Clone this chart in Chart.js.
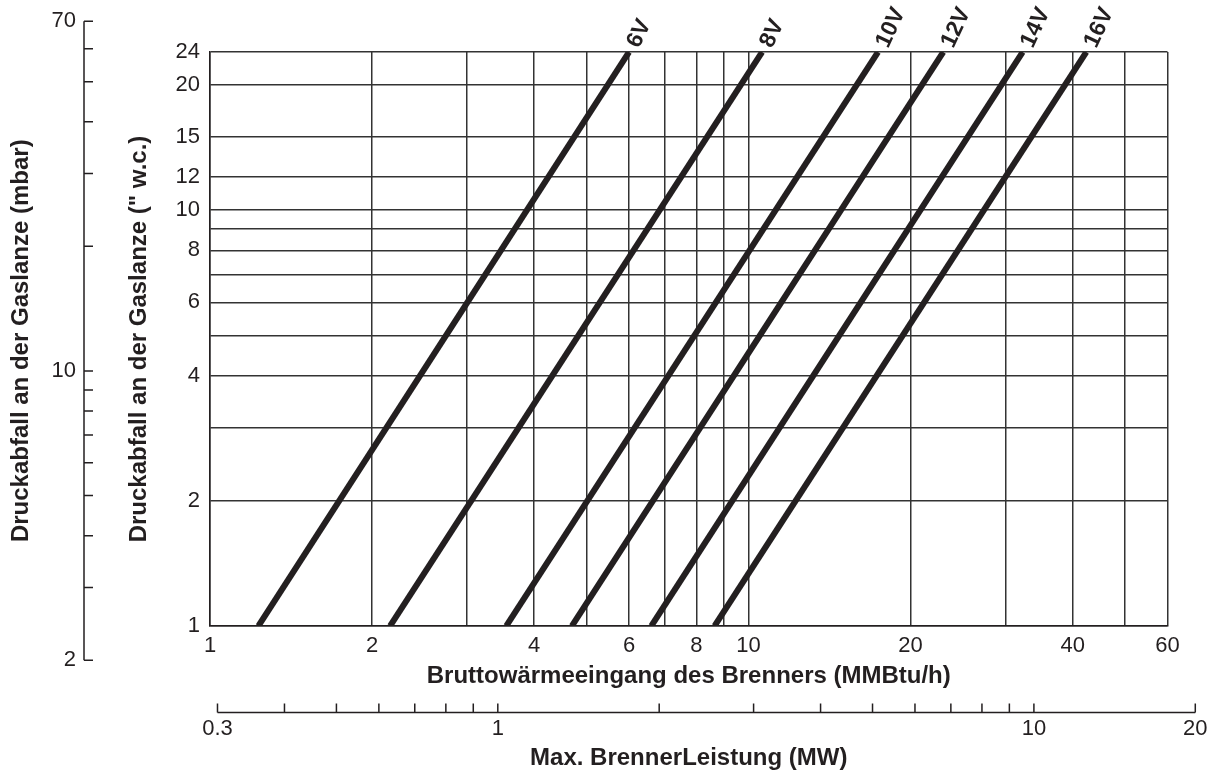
<!DOCTYPE html>
<html>
<head>
<meta charset="utf-8">
<script src="https://cdn.jsdelivr.net/npm/chart.js@4.4.1/dist/chart.umd.min.js"></script>
<style>
  html, body { margin: 0; padding: 0; background: #fff; }
  #wrap { width: 1215px; height: 774px; }
</style>
</head>
<body>
<div id="wrap"><canvas id="nozzleChart"></canvas></div>
<script>
// nozzle sizes and burner input (MMBtu/h) at 1" and 24" w.c.
const seriesNames = ['6V', '8V', '10V', '12V', '14V', '16V'];
const flowAtLow = [1.23, 2.16, 3.55, 4.7, 6.6, 8.65];
const flowAtHigh = [6.0, 10.6, 17.4, 23.0, 32.3, 42.4];
const pressureEnds = [1, 24];

const xTicks = [1, 2, 3, 4, 5, 6, 7, 8, 9, 10, 20, 30, 40, 50, 60];
const xLabels = [1, 2, 4, 6, 8, 10, 20, 40, 60];
const yTicks = [1, 2, 3, 4, 5, 6, 7, 8, 9, 10, 12, 15, 20, 24];
const yLabels = [1, 2, 4, 6, 8, 10, 12, 15, 20, 24];
const mbarTicks = [2, 3, 4, 5, 6, 7, 8, 9, 10, 20, 30, 40, 50, 60, 70];
const mbarLabels = [2, 10, 70];
const mwTicks = [0.3, 0.4, 0.5, 0.6, 0.7, 0.8, 0.9, 1, 2, 3, 4, 5, 6, 7, 8, 9, 10, 20];
const mwLabels = [0.3, 1, 10, 20];

const ink = '#231f20';
const gridInk = '#333333';
const family = '"Liberation Sans", Arial, Helvetica, sans-serif';

const datasets = seriesNames.map((name, i) => ({
    label: name,
    data: [
        { x: flowAtLow[i], y: pressureEnds[0] },
        { x: flowAtHigh[i], y: pressureEnds[1] }
    ],
    borderColor: ink,
    borderWidth: 6,
    borderCapStyle: 'butt',
    pointRadius: 0,
    tension: 0
}));

// secondary axes (mbar, MW) and the nozzle labels
const extraAxes = {
    id: 'extraAxes',
    afterDatasetsDraw(chart) {
        const ctx = chart.ctx;
        ctx.save();
        ctx.fillStyle = ink;
        ctx.font = 'bold 23px ' + family;
        ctx.textAlign = 'left';
        ctx.textBaseline = 'alphabetic';
        chart.data.datasets.forEach((ds, i) => {
            const pt = chart.getDatasetMeta(i).data[1];
            ctx.save();
            ctx.translate(pt.x + 10, pt.y - 3);
            ctx.rotate(-65 * Math.PI / 180);
            ctx.fillText(ds.label, 0, 0);
            ctx.restore();
        });
        ctx.restore();
    },
    afterDraw(chart) {
        const ctx = chart.ctx;
        const mbar = chart.scales.mbar;
        const mw = chart.scales.mw;
        ctx.save();
        ctx.strokeStyle = ink;
        ctx.fillStyle = ink;
        ctx.lineWidth = 1.5;

        // mbar axis on the far left
        const ax = 84;
        ctx.beginPath();
        ctx.moveTo(ax, mbar.getPixelForValue(mbarTicks[0]));
        ctx.lineTo(ax, mbar.getPixelForValue(mbarTicks[mbarTicks.length - 1]));
        mbarTicks.forEach(v => {
            const y = mbar.getPixelForValue(v);
            ctx.moveTo(ax, y);
            ctx.lineTo(ax + 9, y);
        });
        ctx.stroke();
        ctx.font = '22px ' + family;
        ctx.textAlign = 'right';
        ctx.textBaseline = 'middle';
        mbarLabels.forEach(v => ctx.fillText(String(v), ax - 8, mbar.getPixelForValue(v)));

        ctx.save();
        ctx.translate(21, (mbar.getPixelForValue(2) + mbar.getPixelForValue(70)) / 2);
        ctx.rotate(-Math.PI / 2);
        ctx.textAlign = 'center';
        ctx.font = 'bold 24px ' + family;
        ctx.fillText('Druckabfall an der Gaslanze (mbar)', 0, 0);
        ctx.restore();

        // MW axis at the bottom
        const ay = 712.5;
        ctx.beginPath();
        ctx.moveTo(mw.getPixelForValue(mwTicks[0]), ay);
        ctx.lineTo(mw.getPixelForValue(mwTicks[mwTicks.length - 1]), ay);
        mwTicks.forEach(v => {
            const x = mw.getPixelForValue(v);
            ctx.moveTo(x, ay);
            ctx.lineTo(x, ay - 9);
        });
        ctx.stroke();
        ctx.font = '22px ' + family;
        ctx.textAlign = 'center';
        ctx.textBaseline = 'top';
        mwLabels.forEach(v => ctx.fillText(String(v), mw.getPixelForValue(v), 718));

        ctx.font = 'bold 24px ' + family;
        ctx.textBaseline = 'alphabetic';
        ctx.fillText('Max. BrennerLeistung (MW)', (chart.chartArea.left + chart.chartArea.right) / 2, 765);
        ctx.restore();
    }
};

const config = {
    type: 'line',
    data: { datasets: datasets },
    options: {
        responsive: true,
        maintainAspectRatio: false,
        animation: false,
        layout: { padding: { left: 125, top: 52, right: 47.5, bottom: 83 } },
        plugins: {
            legend: { display: false },
            tooltip: { enabled: false }
        },
        scales: {
            x: {
                type: 'logarithmic',
                position: 'bottom',
                min: 1,
                max: 60,
                afterBuildTicks: s => { s.ticks = xTicks.map(v => ({ value: v })); },
                afterFit: s => { s.height = 65; },
                grid: { color: gridInk, lineWidth: 1.5, drawTicks: false },
                border: { color: ink, width: 1.5 },
                ticks: {
                    padding: 7,
                    color: ink,
                    autoSkip: false,
                    maxRotation: 0,
                    font: { size: 22, family: family },
                    callback: v => xLabels.includes(v) ? String(v) : ''
                },
                title: {
                    display: true,
                    text: 'Bruttowärmeeingang des Brenners (MMBtu/h)',
                    color: ink,
                    padding: 0,
                    font: { size: 24, weight: 'bold', family: family }
                }
            },
            y: {
                type: 'logarithmic',
                position: 'left',
                min: 1,
                max: 24,
                afterBuildTicks: s => { s.ticks = yTicks.map(v => ({ value: v })); },
                afterFit: s => { s.width = 85; },
                grid: { color: gridInk, lineWidth: 1.5, drawTicks: false },
                border: { color: ink, width: 1.5 },
                ticks: {
                    padding: 10,
                    color: ink,
                    autoSkip: false,
                    font: { size: 22, family: family },
                    callback: v => yLabels.includes(v) ? String(v) : ''
                },
                title: {
                    display: true,
                    text: 'Druckabfall an der Gaslanze (" w.c.)',
                    color: ink,
                    padding: 0,
                    font: { size: 24, weight: 'bold', family: family }
                }
            },
            mbar: {
                type: 'logarithmic',
                position: 'left',
                display: false,
                min: 2.42,
                max: 58.96
            },
            mw: {
                type: 'logarithmic',
                position: 'bottom',
                display: false,
                min: 0.2905,
                max: 17.75
            }
        }
    },
    plugins: [extraAxes]
};

const ctx = document.getElementById('nozzleChart').getContext('2d');
new Chart(ctx, config);
</script>
</body>
</html>
